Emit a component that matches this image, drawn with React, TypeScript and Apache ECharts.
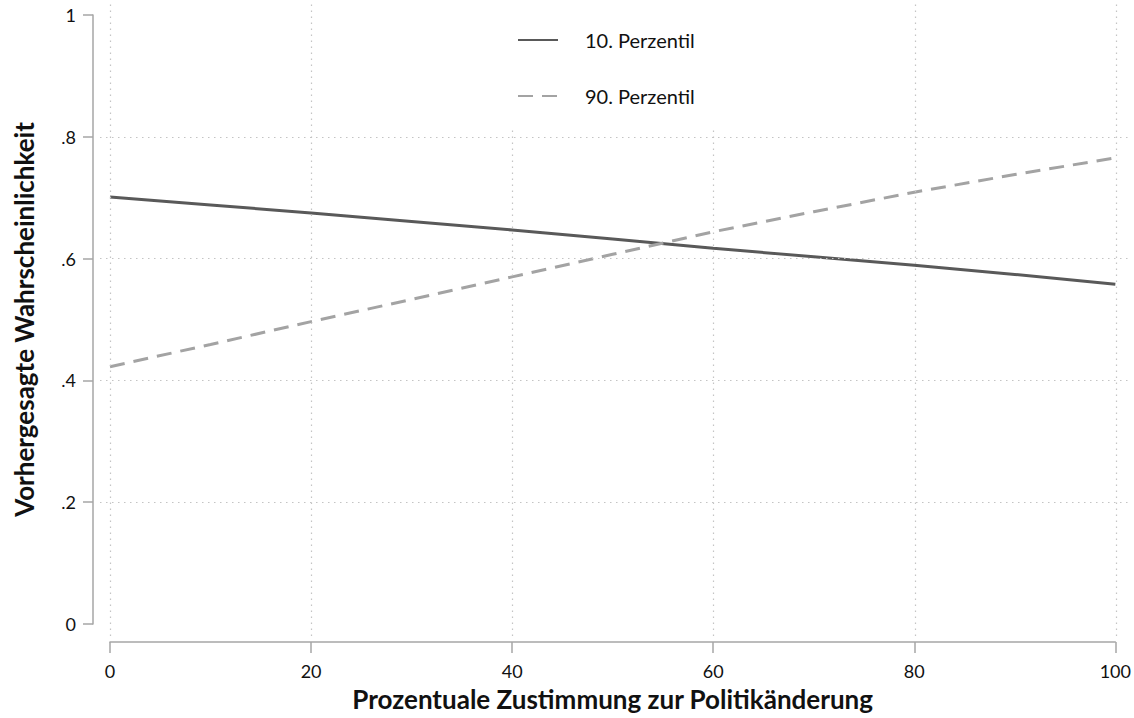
import React, { useEffect, useRef } from "react";
import * as echarts from "echarts";

const xValues = [0, 10, 20, 30, 40, 50, 60, 70, 80, 90, 100];
const p10Values = [0.701, 0.688, 0.675, 0.661, 0.647, 0.632, 0.617, 0.603, 0.589, 0.574, 0.558];
const p90Values = [0.4225, 0.459, 0.4965, 0.533, 0.570, 0.607, 0.644, 0.677, 0.709, 0.738, 0.7655];
const seriesNames = ["10. Perzentil", "90. Perzentil"];
const xGridTicks = [0, 20, 40, 60, 80, 100];
const yGridTicks = [0.2, 0.4, 0.6, 0.8];
const xTitle = "Prozentuale Zustimmung zur Politikänderung";
const yTitle = "Vorhergesagte Wahrscheinlichkeit";

const FONT = "Lato";
const AXIS_COLOR = "#a6a6a6";
const GRID_COLOR = "#c4c4c4";

export default function App() {
  const ref = useRef<HTMLDivElement>(null);
  useEffect(() => {
    document.body.style.margin = "0";
    const chart = echarts.init(ref.current!, null, { renderer: "svg" });
    const toPairs = (ys: number[]) => xValues.map((x, i) => [x, ys[i]]);
    chart.setOption({
      animation: false,
      backgroundColor: "#fff",
      textStyle: { fontFamily: FONT },
      grid: [
        { left: 110, right: 18, top: 15, bottom: 94 },
        { left: 100, right: 4, top: 0, bottom: 82 },
      ],
      xAxis: [
        {
          type: "value",
          gridIndex: 0,
          min: 0,
          max: 100,
          interval: 20,
          offset: 18,
          axisLine: { show: true, onZero: false, lineStyle: { color: AXIS_COLOR, width: 1.5 } },
          axisTick: { show: true, length: 11, lineStyle: { color: AXIS_COLOR, width: 1.5 } },
          axisLabel: { margin: 20, fontSize: 18, color: "#111", fontFamily: FONT },
          splitLine: { show: false },
          name: xTitle,
          nameLocation: "middle",
          nameGap: 44,
          nameTextStyle: { fontSize: 26, fontWeight: "bold", color: "#111", fontFamily: FONT },
        },
        {
          type: "value",
          gridIndex: 1,
          min: -10 / 10.06,
          max: 100 + 14 / 10.06,
          show: false,
          splitLine: { show: false },
        },
      ],
      yAxis: [
        {
          type: "value",
          gridIndex: 0,
          min: 0,
          max: 1,
          interval: 0.2,
          offset: 17,
          axisLine: { show: true, onZero: false, lineStyle: { color: AXIS_COLOR, width: 1.5 } },
          axisTick: { show: true, length: 10, lineStyle: { color: AXIS_COLOR, width: 1.5 } },
          axisLabel: {
            margin: 17,
            fontSize: 18,
            color: "#111",
            fontFamily: FONT,
            formatter: (v: number) => (v === 0 ? "0" : v === 1 ? "1" : v.toFixed(1).replace(/^0/, "")),
          },
          splitLine: { show: false },
          name: yTitle,
          nameLocation: "middle",
          nameGap: 56,
          nameRotate: 90,
          nameTextStyle: { fontSize: 26, fontWeight: "bold", color: "#111", fontFamily: FONT },
        },
        {
          type: "value",
          gridIndex: 1,
          min: -12 / 609,
          max: 1 + 15 / 609,
          show: false,
          splitLine: { show: false },
        },
      ],
      legend: {
        data: seriesNames,
        orient: "vertical",
        left: 490,
        top: 0,
        z: 20,
        padding: [30, 40, 24, 27],
        itemWidth: 40,
        itemHeight: 14,
        itemGap: 36,
        backgroundColor: "#fff",
        itemStyle: { color: "rgba(0,0,0,0)", borderWidth: 0, borderColor: "rgba(0,0,0,0)" },
        textStyle: { fontSize: 20, color: "#111", fontFamily: FONT, padding: [0, 0, 0, 22] },
      },
      series: [
        {
          type: "line",
          name: "grid",
          xAxisIndex: 1,
          yAxisIndex: 1,
          data: [],
          silent: true,
          z: 1,
          markLine: {
            silent: true,
            symbol: ["none", "none"],
            label: { show: false },
            lineStyle: { color: GRID_COLOR, type: [1.5, 4.5], width: 1.2 },
            data: [
              ...xGridTicks.map((v) => ({ xAxis: v })),
              ...yGridTicks.map((v) => ({ yAxis: v })),
            ],
          },
        },
        {
          type: "line",
          name: seriesNames[0],
          xAxisIndex: 0,
          yAxisIndex: 0,
          data: toPairs(p10Values),
          symbol: "none",
          z: 3,
          lineStyle: { color: "#595959", width: 3, type: "solid" },
          itemStyle: { color: "#595959" },
        },
        {
          type: "line",
          name: seriesNames[1],
          xAxisIndex: 0,
          yAxisIndex: 0,
          data: toPairs(p90Values),
          symbol: "none",
          z: 3,
          lineStyle: { color: "#a3a3a3", width: 3, type: [15, 9] },
          itemStyle: { color: "#a3a3a3" },
        },
      ],
    });
    return () => chart.dispose();
  }, []);
  return <div ref={ref} style={{ width: 1134, height: 718 }} />;
}
